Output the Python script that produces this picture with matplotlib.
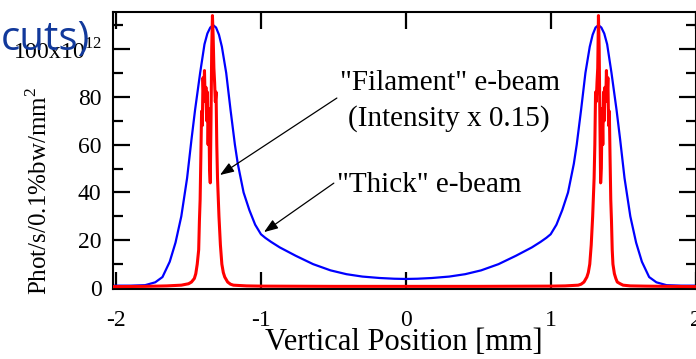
import matplotlib
matplotlib.use('Agg')
import matplotlib.pyplot as plt
from matplotlib.ticker import FixedLocator, FixedFormatter, MultipleLocator

plt.rcParams['font.family'] = 'Liberation Serif'
plt.rcParams['mathtext.fontset'] = 'custom'
plt.rcParams['mathtext.rm'] = 'Liberation Serif'
plt.rcParams['axes.unicode_minus'] = False

# "Thick" e-beam profile
thick_x = [-2.02, -1.90, -1.80, -1.73, -1.68, -1.63, -1.59, -1.55, -1.51, -1.48,
           -1.455, -1.42, -1.39, -1.37, -1.35, -1.33, -1.31, -1.29, -1.27, -1.24,
           -1.21, -1.18, -1.16, -1.12, -1.08, -1.04, -1.00, -0.97, -0.93, -0.87,
           -0.76, -0.64, -0.52, -0.41, -0.30, -0.18, -0.08, 0.00,
           0.08, 0.18, 0.30, 0.41, 0.52, 0.64, 0.76, 0.87, 0.93, 0.97,
           1.00, 1.04, 1.08, 1.12, 1.16, 1.18, 1.21, 1.24, 1.27, 1.29,
           1.31, 1.33, 1.35, 1.37, 1.39, 1.42, 1.455, 1.48, 1.51, 1.55,
           1.59, 1.63, 1.68, 1.73, 1.80, 1.90, 2.00]
thick_y = [1.0, 1.0, 1.2, 2.4, 4.6, 11, 19, 30, 46, 62,
           74.5, 90, 102, 106.5, 109, 110, 109, 106, 101, 90,
           74.5, 60, 52, 40, 32.6, 26.5, 22.5, 21, 19.3, 17,
           13.5, 10, 7.4, 5.8, 4.8, 4.2, 3.9, 3.8,
           3.9, 4.2, 4.8, 5.8, 7.4, 10, 13.5, 17, 19.3, 21,
           22.5, 26.5, 32.6, 40, 52, 60, 74.5, 90, 101, 106,
           109, 110, 109, 106.5, 102, 90, 74.5, 62, 46, 30,
           19, 11, 4.6, 2.4, 1.2, 1.0, 1.0]

# "Filament" e-beam profile (already scaled by 0.15)
fil_x = [-2.02, -1.80, -1.65, -1.55, -1.50, -1.48, -1.46, -1.45, -1.44, -1.43,
         -1.425, -1.42, -1.415, -1.41, -1.405, -1.40, -1.395, -1.39, -1.385, -1.38,
         -1.375, -1.37, -1.365, -1.36, -1.355, -1.35, -1.345, -1.34, -1.335, -1.33,
         -1.325, -1.32, -1.315, -1.31, -1.305, -1.30, -1.295, -1.29, -1.28, -1.27,
         -1.26, -1.25, -1.23, -1.21, -1.19, -1.10, -1.00, -0.50, 0.00,
         0.50, 1.00, 1.10, 1.19, 1.21, 1.23, 1.25, 1.26, 1.27, 1.28,
         1.29, 1.295, 1.30, 1.305, 1.31, 1.315, 1.32, 1.325, 1.33, 1.335,
         1.34, 1.345, 1.35, 1.355, 1.36, 1.365, 1.37, 1.375, 1.38, 1.385,
         1.39, 1.395, 1.40, 1.405, 1.41, 1.415, 1.42, 1.425, 1.43, 1.44,
         1.45, 1.46, 1.48, 1.50, 1.55, 1.65, 1.80, 2.00]
fil_y = [0.6, 0.7, 0.9, 1.2, 1.8, 2.5, 4.0, 6, 10, 16,
         28, 37, 55, 74, 68, 88, 80, 91, 78, 84,
         70, 82, 60, 75, 50, 44, 70, 100, 114, 105,
         92, 86, 78, 82, 60, 46, 38, 30, 18, 10,
         6.5, 4.6, 2.5, 1.6, 1.2, 0.9, 0.8, 0.7, 0.7,
         0.7, 0.8, 0.9, 1.2, 1.6, 2.5, 4.6, 6.5, 10, 18,
         30, 38, 46, 60, 82, 78, 86, 92, 114, 100,
         70, 44, 50, 75, 60, 82, 70, 84, 78, 91,
         80, 88, 68, 74, 55, 37, 28, 16, 10, 6,
         4.0, 2.5, 1.8, 1.2, 0.9, 0.8, 0.7, 0.6]

y_ticks = [0, 20, 40, 60, 80, 100]
y_tick_labels = ['0', '20', '40', '60', '80', '100x10$^{12}$']
x_ticks = [-2, -1, 0, 1, 2]
x_tick_labels = ['-2', '-1', '0', '1', '2']

W, H = 696, 359
fig = plt.figure(figsize=(W / 100, H / 100), dpi=100)
ax = fig.add_axes([112.5 / W, 1 - 289 / H, (695.5 - 112.5) / W, (289 - 12) / H])

ax.plot(thick_x, thick_y, color='#0000ff', lw=1.6, zorder=2)
ax.plot(fil_x, fil_y, color='#ff0000', lw=2.2, zorder=3)

ax.set_xlim(-2.025, 2.0)
ax.set_ylim(-0.4, 115.5)

ax.xaxis.set_major_locator(FixedLocator(x_ticks))
ax.xaxis.set_major_formatter(FixedFormatter(x_tick_labels))
ax.yaxis.set_major_locator(FixedLocator(y_ticks))
ax.yaxis.set_major_formatter(FixedFormatter(y_tick_labels))
ax.yaxis.set_minor_locator(MultipleLocator(10))

ax.tick_params(axis='both', which='both', direction='in', top=True, right=True,
               width=1.6, labelsize=17)
ax.tick_params(axis='both', which='major', length=12)
ax.tick_params(axis='y', which='minor', length=7)
ax.tick_params(axis='x', which='major', pad=15)
ax.tick_params(axis='y', which='major', pad=8)
for s in ax.spines.values():
    s.set_linewidth(1.5)

ax.set_xlabel('Vertical Position [mm]', fontsize=22, labelpad=-2)
fig.text(39 / W, 1 - 191 / H, 'Phot/s/0.1%bw/mm$^2$', rotation=90,
         ha='center', va='center', fontsize=18)

# labels and pointers
ax.text(0.303, 82.8, '"Filament" e-beam', ha='center', va='baseline', fontsize=21)
ax.text(0.300, 68.0, '(Intensity x 0.15)', ha='center', va='baseline', fontsize=21)
ax.text(-0.475, 40.2, '"Thick" e-beam', ha='left', va='baseline', fontsize=21)

arrow = dict(arrowstyle='-|>,head_length=0.6,head_width=0.22', color='black',
             lw=0.9, mutation_scale=14, shrinkA=0, shrinkB=0)
ax.annotate('', xy=(-1.283, 47.3), xytext=(-0.476, 79.5), arrowprops=arrow)
ax.annotate('', xy=(-0.979, 23.4), xytext=(-0.497, 43.9), arrowprops=arrow)

fig.text(90 / W, 1 - 50 / H, 'cuts)', ha='right', va='baseline', fontsize=29,
         family='Open Sans', color='#12399b', zorder=10)

fig.savefig('out.png', dpi=100)
